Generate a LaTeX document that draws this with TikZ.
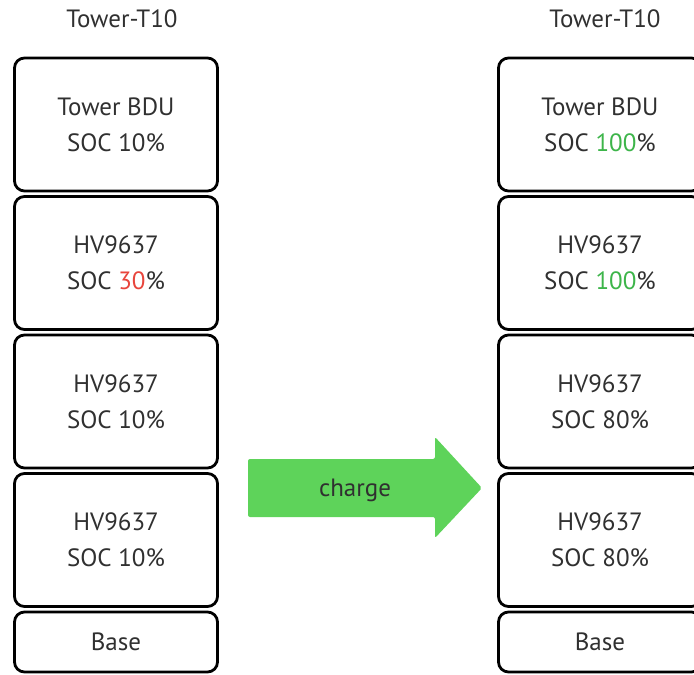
\documentclass[tikz,border=0pt]{standalone}
\usepackage{fontspec}
\setmainfont{PT Sans}
\usepackage{tikz}
\definecolor{txtgray}{HTML}{303030}
\definecolor{socred}{HTML}{E8453C}
\definecolor{socgreen}{HTML}{3DB54A}
\definecolor{arrowgreen}{HTML}{5ED35A}

\begin{document}
\begin{tikzpicture}
[x=1pt, y=-1pt,
 every node/.style={inner sep=0pt, text=txtgray, font=\fontsize{25}{36}\selectfont},
 cell/.style={rectangle, rounded corners=10pt, draw=black, line width=2.8pt, fill=white, minimum width=203pt, align=center}]
\clip (0,0) rectangle (694,675);
% left tower
\node (titleL) at (122, 19) {Tower-T10};
\node (bduL) [cell, minimum height=133pt] at (116, 124.5) {Tower BDU\\SOC 10\%};
\node (hvaL) [cell, minimum height=133pt] at (116, 263) {HV9637\\SOC \textcolor{socred}{30}\%};
\node (hvbL) [cell, minimum height=133pt] at (116, 401.5) {HV9637\\SOC 10\%};
\node (hvcL) [cell, minimum height=133pt] at (116, 540) {HV9637\\SOC 10\%};
\node (baseL) [cell, minimum height=60pt] at (116, 642) {Base};
% right tower
\node (titleR) at (605, 19) {Tower-T10};
\node (bduR) [cell, minimum height=133pt] at (600, 124.5) {Tower BDU\\SOC \textcolor{socgreen}{100}\%};
\node (hvaR) [cell, minimum height=133pt] at (600, 263) {HV9637\\SOC \textcolor{socgreen}{100}\%};
\node (hvbR) [cell, minimum height=133pt] at (600, 401.5) {HV9637\\SOC 80\%};
\node (hvcR) [cell, minimum height=133pt] at (600, 540) {HV9637\\SOC 80\%};
\node (baseR) [cell, minimum height=60pt] at (600, 642) {Base};
% charge arrow
\fill [arrowgreen, rounded corners=2pt] (248,459) -- (435,459) -- (435,437) -- (482,488)
  -- (435,538) -- (435,517) -- (248,517) -- cycle;
\node (charge) at (355, 490) {charge};
\end{tikzpicture}
\end{document}
